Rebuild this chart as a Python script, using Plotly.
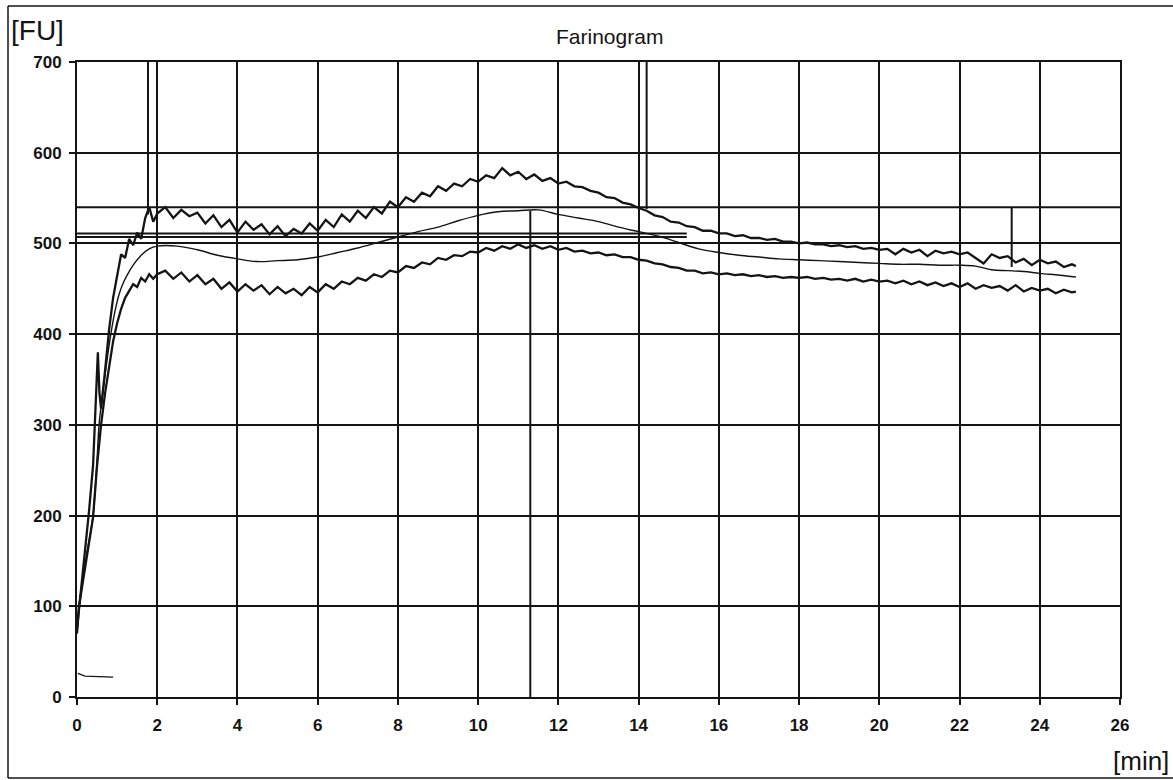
import plotly.graph_objects as go

# ---------------- data ----------------
top_t = [0, 0.1, 0.2, 0.3, 0.4, 0.45, 0.5, 0.52, 0.56, 0.6, 0.7, 0.8, 0.9, 1.0, 1.1, 1.2, 1.3, 1.4, 1.5, 1.6, 1.7, 1.8, 1.9,
         2.0, 2.2, 2.4, 2.6, 2.8, 3.0, 3.2, 3.4, 3.6, 3.8, 4.0, 4.2, 4.4, 4.6, 4.8, 5.0, 5.2, 5.4, 5.6, 5.8,
         6.0, 6.2, 6.4, 6.6, 6.8, 7.0, 7.2, 7.4, 7.6, 7.8, 8.0, 8.2, 8.4, 8.6, 8.8, 9.0, 9.2, 9.4, 9.6, 9.8,
         10.0, 10.2, 10.4, 10.6, 10.8, 11.0, 11.2, 11.4, 11.6, 11.8, 12.0, 12.2, 12.4, 12.6, 12.8, 13.0, 13.2, 13.4, 13.6, 13.8,
         14.0, 14.2, 14.4, 14.6, 14.8, 15.0, 15.2, 15.4, 15.6, 15.8, 16.0, 16.2, 16.4, 16.6, 16.8, 17.0, 17.2, 17.4, 17.6, 17.8,
         18.0, 18.2, 18.4, 18.6, 18.8, 19.0, 19.2, 19.4, 19.6, 19.8, 20.0, 20.2, 20.4, 20.6, 20.8, 21.0, 21.2, 21.4, 21.6, 21.8,
         22.0, 22.2, 22.4, 22.6, 22.8, 23.0, 23.2, 23.4, 23.6, 23.8, 24.0, 24.2, 24.4, 24.6, 24.8, 24.9]
top_fu = [75, 118, 160, 205, 255, 310, 345, 380, 335, 318, 360, 405, 440, 462, 488, 484, 505, 498, 512, 505, 528, 540, 524,
          533, 540, 528, 537, 530, 534, 522, 531, 518, 526, 512, 524, 515, 521, 510, 519, 508, 516, 511, 522,
          514, 526, 518, 532, 524, 536, 528, 540, 533, 546, 540, 551, 546, 556, 552, 563, 558, 566, 563, 571,
          568, 575, 572, 583, 575, 579, 571, 576, 569, 572, 566, 568, 563, 562, 558, 556, 551, 550, 545, 543,
          539, 536, 531, 529, 524, 523, 519, 518, 514, 514, 511, 511, 508, 509, 506, 506, 504, 505, 502, 502,
          500, 501, 499, 499, 497, 498, 496, 497, 494, 495, 493, 494, 488, 494, 490, 493, 486, 492, 489, 491,
          488, 490, 484, 478, 488, 484, 486, 479, 483, 476, 482, 478, 480, 474, 477, 475]

mid_t = [0, 0.05, 0.15, 0.25, 0.4, 0.5, 0.55, 0.65, 0.75, 0.85, 0.95, 1.05, 1.15, 1.25, 1.4, 1.6, 1.8, 2.0, 2.5, 3.0, 3.5,
         4.0, 4.5, 5.0, 5.5, 6.0, 6.5, 7.0, 7.5, 8.0, 8.5, 9.0, 9.5, 10.0, 10.5, 11.0, 11.5, 12.0, 12.5, 13.0, 13.5,
         14.0, 14.5, 15.0, 15.5, 16.0, 16.5, 17.0, 17.5, 18.0, 18.5, 19.0, 19.5, 20.0, 20.5, 21.0, 21.5, 22.0, 22.4,
         22.8, 23.2, 23.6, 24.0, 24.5, 24.9]
mid_fu = [70, 100, 130, 160, 200, 262, 300, 338, 372, 402, 426, 444, 456, 465, 476, 487, 494, 497, 497, 493, 487,
          483, 480, 481, 482, 485, 490, 495, 501, 507, 513, 518, 525, 531, 535, 536, 537, 532, 528, 524, 518,
          513, 508, 501, 494, 490, 487, 485, 483, 482, 481, 480, 479, 478, 477, 477, 476, 476, 475,
          471, 470, 469, 467, 465, 463]

bot_t = [0, 0.05, 0.15, 0.25, 0.4, 0.5, 0.6, 0.7, 0.8, 0.9, 1.0, 1.1, 1.2, 1.3, 1.4, 1.5, 1.6, 1.7, 1.8, 1.9,
         2.0, 2.2, 2.4, 2.6, 2.8, 3.0, 3.2, 3.4, 3.6, 3.8, 4.0, 4.2, 4.4, 4.6, 4.8, 5.0, 5.2, 5.4, 5.6, 5.8,
         6.0, 6.2, 6.4, 6.6, 6.8, 7.0, 7.2, 7.4, 7.6, 7.8, 8.0, 8.2, 8.4, 8.6, 8.8, 9.0, 9.2, 9.4, 9.6, 9.8,
         10.0, 10.2, 10.4, 10.6, 10.8, 11.0, 11.2, 11.4, 11.6, 11.8, 12.0, 12.2, 12.4, 12.6, 12.8, 13.0, 13.2, 13.4, 13.6, 13.8,
         14.0, 14.2, 14.4, 14.6, 14.8, 15.0, 15.2, 15.4, 15.6, 15.8, 16.0, 16.2, 16.4, 16.6, 16.8, 17.0, 17.2, 17.4, 17.6, 17.8,
         18.0, 18.2, 18.4, 18.6, 18.8, 19.0, 19.2, 19.4, 19.6, 19.8, 20.0, 20.2, 20.4, 20.6, 20.8, 21.0, 21.2, 21.4, 21.6, 21.8,
         22.0, 22.2, 22.4, 22.6, 22.8, 23.0, 23.2, 23.4, 23.6, 23.8, 24.0, 24.2, 24.4, 24.6, 24.8, 24.9]
bot_fu = [70, 100, 128, 158, 198, 255, 300, 335, 365, 392, 412, 428, 440, 447, 455, 452, 462, 458, 466, 461,
          466, 470, 461, 468, 458, 465, 455, 461, 450, 457, 447, 455, 448, 454, 444, 452, 445, 450, 443, 452,
          446, 455, 450, 458, 455, 462, 459, 466, 463, 470, 468, 475, 473, 479, 477, 484, 482, 487, 486, 491,
          490, 495, 492, 497, 494, 499, 495, 498, 494, 497, 493, 495, 491, 492, 489, 490, 487, 488, 485, 485,
          482, 481, 478, 477, 474, 473, 470, 470, 467, 468, 466, 467, 465, 466, 464, 465, 463, 464, 462, 463,
          462, 463, 461, 462, 460, 461, 459, 461, 458, 460, 458, 459, 456, 459, 455, 458, 454, 457, 453, 456,
          452, 456, 450, 454, 451, 453, 448, 454, 447, 451, 448, 450, 445, 449, 446, 447]

temp_t = [0.02, 0.2, 0.9]
temp_fu = [26, 23, 22]

# evaluation marker lines: (x0, x1, y0, y1)
markers = [
    (1.77, 1.77, 532, 700),
    (11.3, 11.3, 0, 536),
    (14.2, 14.2, 538, 700),
    (0, 26, 540, 540),
    (23.3, 23.3, 474, 540),
    (0, 15.2, 511, 511),
    (0, 15.2, 507, 507),
]

x_ticks = list(range(0, 27, 2))
y_ticks = list(range(0, 701, 100))

INK = "#141414"

fig = go.Figure()

mx, my = [], []
for x0, x1, y0, y1 in markers:
    mx += [x0, x1, None]
    my += [y0, y1, None]
fig.add_trace(go.Scatter(x=mx, y=my, mode="lines", line=dict(color=INK, width=2), hoverinfo="skip"))

fig.add_trace(go.Scatter(x=temp_t, y=temp_fu, mode="lines", line=dict(color=INK, width=1.3)))
fig.add_trace(go.Scatter(x=bot_t, y=bot_fu, mode="lines", line=dict(color=INK, width=2.3)))
fig.add_trace(go.Scatter(x=mid_t, y=mid_fu, mode="lines", line=dict(color=INK, width=1.4, shape="spline")))
fig.add_trace(go.Scatter(x=top_t, y=top_fu, mode="lines", line=dict(color=INK, width=2.3)))

W, H = 1173, 780
L, R, T, B = 77, 53, 62, 83
pw, ph = W - L - R, H - T - B


def px(x):
    return (x - L) / pw


def py(y):
    return (H - B - y) / ph


frame = dict(xref="paper", yref="paper", type="line", line=dict(color=INK, width=1.5), layer="below")
fig.update_layout(
    width=W, height=H,
    margin=dict(l=L, r=R, t=T, b=B),
    paper_bgcolor="white", plot_bgcolor="white",
    showlegend=False,
    xaxis=dict(range=[0, 26], tickvals=x_ticks, ticktext=[str(v) for v in x_ticks],
               showgrid=True, gridcolor=INK, gridwidth=1.6, zeroline=False,
               showline=True, linecolor=INK, linewidth=2, mirror=True,
               ticks="outside", ticklen=6, tickcolor=INK, tickwidth=1.5,
               ticklabelstandoff=6,
               tickfont=dict(family="Liberation Sans, Arial", size=17, color=INK, weight="bold")),
    yaxis=dict(range=[0, 700], tickvals=y_ticks, ticktext=[str(v) for v in y_ticks],
               showgrid=True, gridcolor=INK, gridwidth=1.6, zeroline=False,
               showline=True, linecolor=INK, linewidth=2, mirror=True,
               ticks="outside", ticklen=6, tickcolor=INK, tickwidth=1.5,
               ticklabelstandoff=4,
               tickfont=dict(family="Liberation Sans, Arial", size=17, color=INK, weight="bold")),
    shapes=[
        dict(frame, x0=px(8), x1=px(8), y0=py(778), y1=py(6)),
        dict(frame, x0=px(8), x1=px(1173), y0=py(6), y1=py(6)),
        dict(frame, x0=px(8), x1=px(1173), y0=py(778), y1=py(778)),
    ],
    annotations=[
        dict(text="Farinogram", xref="paper", yref="paper", x=px(609), y=py(36),
             xanchor="center", yanchor="middle", showarrow=False,
             font=dict(family="Liberation Sans, Arial", size=21, color=INK)),
        dict(text="[FU]", xref="paper", yref="paper", x=px(9), y=py(30),
             xanchor="left", yanchor="middle", showarrow=False,
             font=dict(family="Liberation Sans, Arial", size=28, color=INK)),
        dict(text="[min]", xref="paper", yref="paper", x=px(1111), y=py(761),
             xanchor="left", yanchor="middle", showarrow=False,
             font=dict(family="Liberation Sans, Arial", size=26, color=INK)),
    ],
)

fig.write_html("out.html", config={"displayModeBar": False},
               post_script="document.body.style.margin='0';document.body.style.overflow='hidden';")
